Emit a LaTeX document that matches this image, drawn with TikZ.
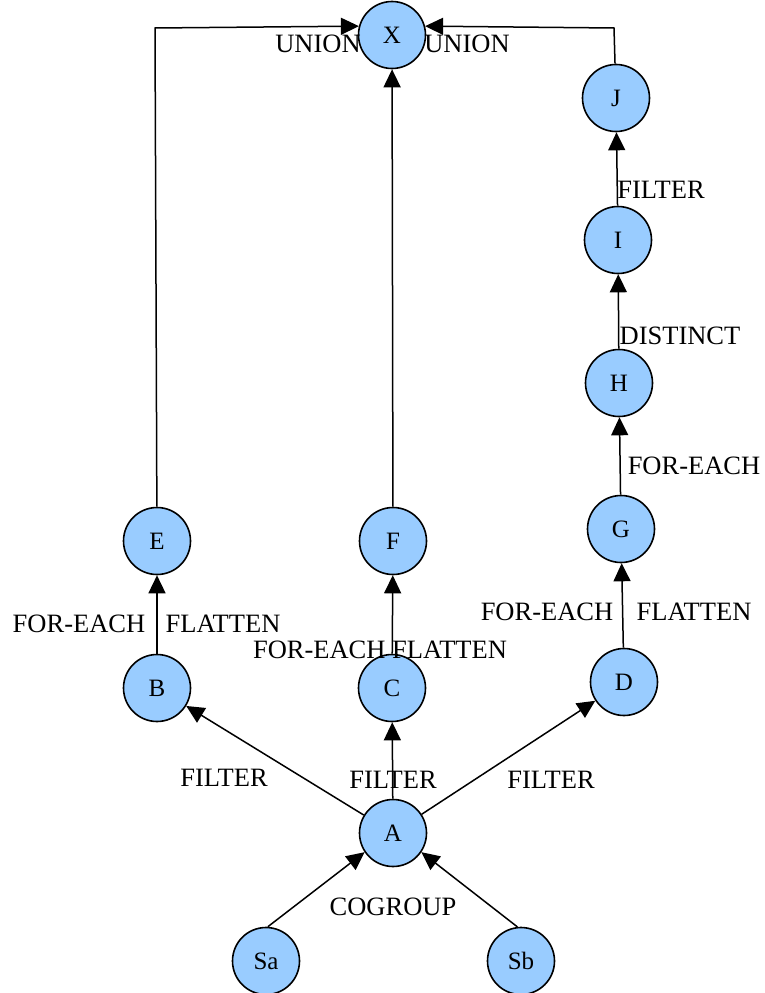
\documentclass[tikz,border=0pt]{standalone}
\usepackage{fontspec}
\setmainfont{Liberation Serif}
\usetikzlibrary{arrows.meta}
\definecolor{nodeblue}{HTML}{99CCFF}
\begin{document}
\begin{tikzpicture}[x=1pt,y=-1pt,
  vtx/.style={circle,draw=black,line width=1.6pt,fill=nodeblue,minimum size=67pt,inner sep=0pt,font=\fontsize{25}{29}\selectfont},
  arr/.style={-{Triangle[length=18pt,width=17pt]},line width=1.5pt},
  lbl/.style={font=\fontsize{26.5}{30}\selectfont,inner sep=0pt}]
\useasboundingbox (0,0) rectangle (764,993);
\node[vtx] (X) at (392,35) {X};
\node[vtx] (J) at (616,98) {J};
\node[vtx] (I) at (618,240) {I};
\node[vtx] (H) at (619,383) {H};
\node[vtx] (G) at (621,529) {G};
\node[vtx] (D) at (624,682) {D};
\node[vtx] (E) at (157,541) {E};
\node[vtx] (F) at (393,541) {F};
\node[vtx] (B) at (157,688) {B};
\node[vtx] (C) at (392,688) {C};
\node[vtx] (A) at (393,833) {A};
\node[vtx] (Sa) at (266,961) {Sa};
\node[vtx] (Sb) at (521,961) {Sb};
\coordinate (eT) at (155,28);
\coordinate (jT) at (614,28);
\draw[arr] (E) -- (eT) -- (X.165);
\draw[arr] (J) -- (jT) -- (X.15);
\draw[arr] (F) -- (X);
\draw[arr] (I) -- (J);
\draw[arr] (H) -- (I);
\draw[arr] (G) -- (H);
\draw[arr] (D) -- (G);
\draw[arr] (B) -- (E);
\draw[arr] (C) -- (F);
\draw[arr] (A) -- (B);
\draw[arr] (A) -- (C);
\draw[arr] (A) -- (D);
\draw[arr] (Sa.87) -- (A.214);
\draw[arr] (Sb.96) -- (A.326);
\node[lbl] (l1) at (318,44) {UNION};
\node[lbl] (l2) at (467,44) {UNION};
\node[lbl] (l3) at (661,190) {FILTER};
\node[lbl] (l4) at (680,336) {DISTINCT};
\node[lbl] (l5) at (694,466) {FOR-EACH};
\node[lbl] (l6) at (547,612) {FOR-EACH};
\node[lbl] (l7) at (694,612) {FLATTEN};
\node[lbl] (l8) at (79,624) {FOR-EACH};
\node[lbl] (l9) at (223,624) {FLATTEN};
\node[lbl] (l10) at (380,650) {FOR-EACH FLATTEN};
\node[lbl] (l11) at (224,778) {FILTER};
\node[lbl] (l12) at (393,780) {FILTER};
\node[lbl] (l13) at (551,780) {FILTER};
\node[lbl] (l14) at (393,907) {COGROUP};
\end{tikzpicture}
\end{document}
